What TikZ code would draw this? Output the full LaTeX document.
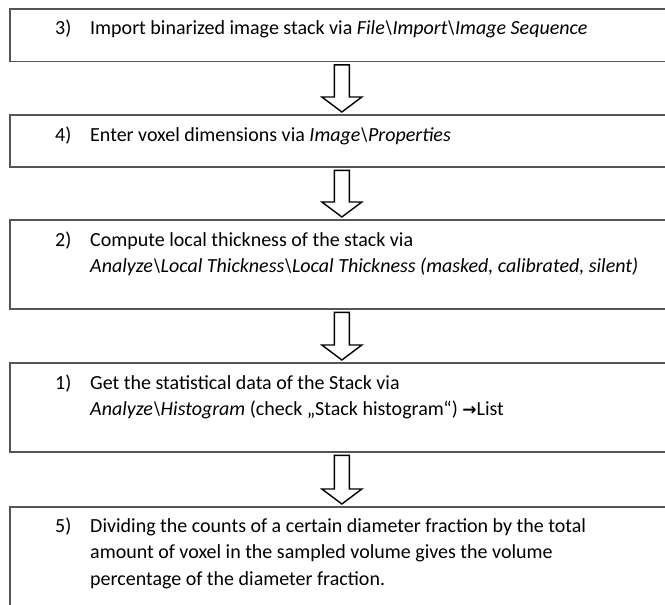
\documentclass[tikz,border=0pt]{standalone}
\usepackage{fontspec}
\setmainfont{Carlito}
\newfontfamily\symfont{DejaVu Sans}
\usetikzlibrary{calc}
\tikzset{
  stepbox/.style={draw=boxgray, line width=1.8pt, rectangle, anchor=north west, inner sep=0pt},
  txt/.style={anchor=base west, inner sep=0pt, font=\fontsize{20}{26.5}\selectfont},
  flowarrow/.style={draw=black, line width=1.4pt, fill=white, line join=miter},
}
\definecolor{boxgray}{HTML}{555555}
\newcommand\flowarr[2]{%
  \draw[flowarrow] let \p1=(#1.south), \p2=(#2.north) in
    (\x1-7.5pt,\y1-2.5pt) -- (\x1-7.5pt,\y2+17pt) -- (\x1-20pt,\y2+17pt) --
    (\x1,\y2+2pt) -- (\x1+20pt,\y2+17pt) -- (\x1+7.5pt,\y2+17pt) --
    (\x1+7.5pt,\y1-2.5pt) -- cycle;}
\begin{document}
\begin{tikzpicture}[x=1pt,y=-1pt]
\useasboundingbox (0,0) rectangle (665,605);
\clip (0,0) rectangle (665,605);
\fill[white] (0,0) rectangle (665,605);
% boxes
\node[stepbox, minimum width=664pt, minimum height=52.5pt] (b1) at (9,8) {};
\node[stepbox, minimum width=664pt, minimum height=52pt] (b2) at (9,114) {};
\node[stepbox, minimum width=664pt, minimum height=89pt] (b3) at (9,219) {};
\node[stepbox, minimum width=664pt, minimum height=89pt] (b4) at (9,362) {};
\node[stepbox, minimum width=664pt, minimum height=120pt] (b5) at (9,506) {};
% texts
\node[txt] (n1) at (55,34.5) {3)};
\node[txt] (t1) at (90,34.5) {Import binarized image stack via \textit{File\textbackslash Import\textbackslash Image Sequence}};
\node[txt] (n2) at (55,141) {4)};
\node[txt] (t2) at (90,141) {Enter voxel dimensions via \textit{Image\textbackslash Properties}};
\node[txt] (n3) at (55,246) {2)};
\node[txt] (t3a) at (90,246) {Compute local thickness of the stack via};
\node[txt] (t3b) at (90,272.5) {\textit{Analyze\textbackslash Local Thickness\textbackslash Local Thickness (masked, calibrated, silent)}};
\node[txt] (n4) at (55,389) {1)};
\node[txt] (t4a) at (90,389) {Get the statistical data of the Stack via};
\node[txt] (t4b) at (90,415.5) {\textit{Analyze\textbackslash Histogram} (check „Stack histogram“) {\symfont\bfseries\fontsize{17}{20}\selectfont →}List};
\node[txt] (n5) at (55,532) {5)};
\node[txt] (t5a) at (90,532) {Dividing the counts of a certain diameter fraction by the total};
\node[txt] (t5b) at (90,558.5) {amount of voxel in the sampled volume gives the volume};
\node[txt] (t5c) at (90,585) {percentage of the diameter fraction.};
% arrows
\flowarr{b1}{b2}
\flowarr{b2}{b3}
\flowarr{b3}{b4}
\flowarr{b4}{b5}
\end{tikzpicture}
\end{document}
